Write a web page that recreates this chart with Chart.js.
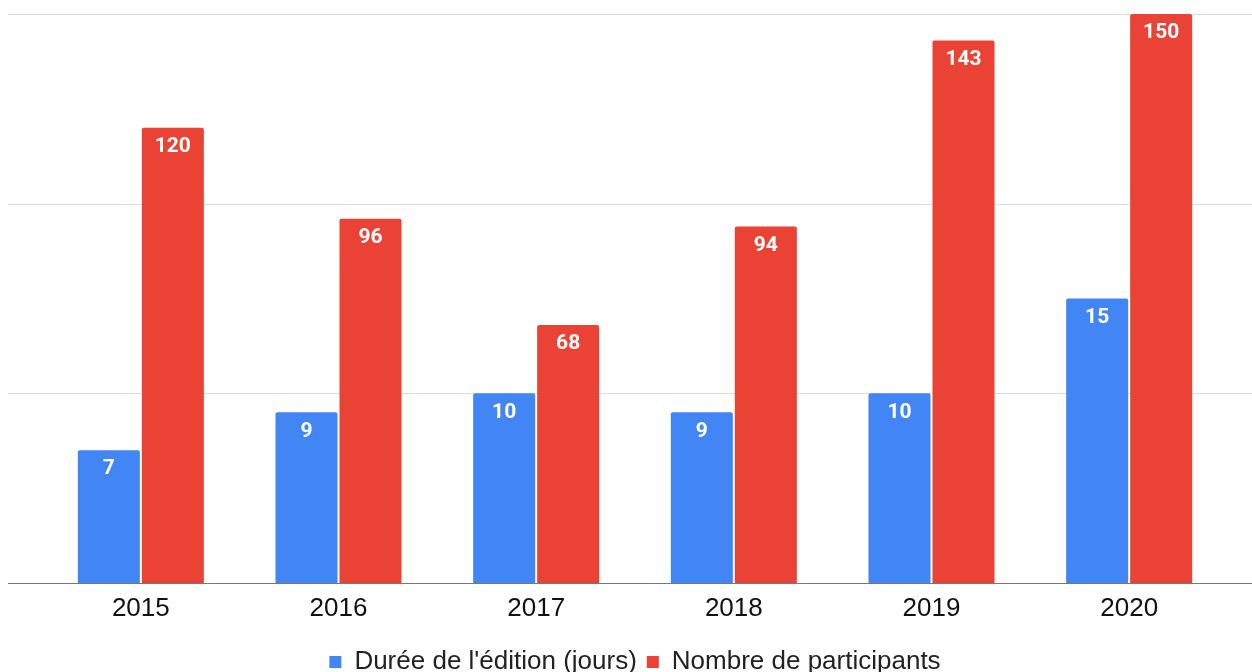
<!DOCTYPE html>
<html>
<head>
<meta charset="utf-8">
<script src="https://cdn.jsdelivr.net/npm/chart.js@4.4.1/dist/chart.umd.min.js"></script>
<style>
  html, body { margin: 0; padding: 0; background: #fff; overflow: hidden; }
  #wrap { position: relative; width: 1252px; height: 685px; }
</style>
</head>
<body>
<div id="wrap"><canvas id="c"></canvas></div>
<script>
const categories = ['2015', '2016', '2017', '2018', '2019', '2020'];
const dureeJours = [7, 9, 10, 9, 10, 15];
const participants = [120, 96, 68, 94, 143, 150];
const seriesNames = ["Durée de l'édition (jours)", 'Nombre de participants'];
const dureeAxisTicks = [0, 10, 20, 30];
const participantsAxisTicks = [0, 50, 100, 150];

const BLUE = '#4285f4';
const RED = '#ea4335';

const gridPlugin = {
  id: 'extGrid',
  beforeDatasetsDraw(chart) {
    const ctx = chart.ctx;
    const s = chart.scales.y1;
    ctx.save();
    ctx.strokeStyle = '#dcdcdc';
    ctx.lineWidth = 1;
    s.ticks.forEach(t => {
      if (t.value === 0) return;
      const y = Math.round(s.getPixelForValue(t.value)) + 0.5;
      ctx.beginPath();
      ctx.moveTo(8, y);
      ctx.lineTo(chart.width, y);
      ctx.stroke();
    });
    ctx.restore();
  },
  afterDatasetsDraw(chart) {
    const ctx = chart.ctx;
    const s = chart.scales.y1;
    const y = Math.round(s.getPixelForValue(0)) + 0.5;
    ctx.save();
    ctx.strokeStyle = '#777777';
    ctx.lineWidth = 1;
    ctx.beginPath();
    ctx.moveTo(8, y);
    ctx.lineTo(chart.width, y);
    ctx.stroke();
    ctx.restore();
  }
};

const labelPlugin = {
  id: 'barLabels',
  afterDatasetsDraw(chart) {
    const ctx = chart.ctx;
    ctx.save();
    ctx.fillStyle = '#ffffff';
    ctx.font = 'bold 21px Roboto, "Liberation Sans", Arial, sans-serif';
    ctx.textAlign = 'center';
    ctx.textBaseline = 'middle';
    chart.data.datasets.forEach((ds, di) => {
      const meta = chart.getDatasetMeta(di);
      meta.data.forEach((el, i) => {
        ctx.fillText(String(ds.data[i]), el.x, el.y + 19);
      });
    });
    ctx.restore();
  }
};

new Chart(document.getElementById('c'), {
  type: 'bar',
  data: {
    labels: categories,
    datasets: [
      {
        label: seriesNames[0],
        data: dureeJours,
        backgroundColor: BLUE,
        yAxisID: 'y',
        categoryPercentage: 0.6476,
        barPercentage: 0.969,
        borderRadius: { topLeft: 2, topRight: 2 },
        borderSkipped: 'bottom'
      },
      {
        label: seriesNames[1],
        data: participants,
        backgroundColor: RED,
        yAxisID: 'y1',
        categoryPercentage: 0.6476,
        barPercentage: 0.969,
        borderRadius: { topLeft: 2, topRight: 2 },
        borderSkipped: 'bottom'
      }
    ]
  },
  options: {
    responsive: true,
    maintainAspectRatio: false,
    animation: false,
    layout: { padding: { left: 42, right: 24, top: 14, bottom: 0 } },
    plugins: {
      tooltip: { enabled: false },
      legend: {
        position: 'bottom',
        labels: {
          boxWidth: 12,
          boxHeight: 12,
          padding: 10,
          color: '#222222',
          font: { family: '"Liberation Sans", Arial, sans-serif', size: 26 }
        }
      }
    },
    scales: {
      x: {
        offset: true,
        grid: { display: false, drawTicks: false, tickLength: 0 },
        border: { display: false },
        ticks: {
          padding: 10,
          color: '#111111',
          font: { family: '"Liberation Sans", Arial, sans-serif', size: 26 },
          maxRotation: 0
        },
        afterFit(scale) { scale.height += 4.8; }
      },
      y: {
        display: false,
        min: dureeAxisTicks[0],
        max: dureeAxisTicks[dureeAxisTicks.length - 1],
        ticks: { stepSize: dureeAxisTicks[1] - dureeAxisTicks[0] }
      },
      y1: {
        display: false,
        position: 'right',
        min: participantsAxisTicks[0],
        max: participantsAxisTicks[participantsAxisTicks.length - 1],
        ticks: { stepSize: participantsAxisTicks[1] - participantsAxisTicks[0] }
      }
    }
  },
  plugins: [gridPlugin, labelPlugin]
});
</script>
</body>
</html>
